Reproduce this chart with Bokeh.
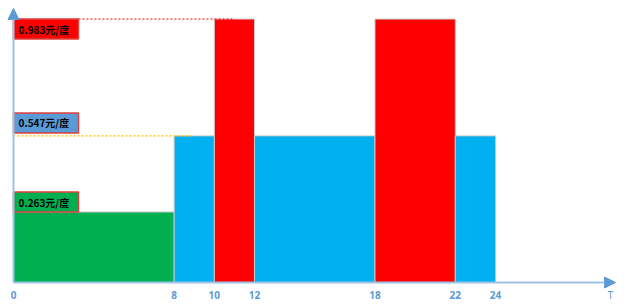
from bokeh.plotting import figure
from bokeh.models import Range1d, Arrow, NormalHead, ColumnDataSource
from bokeh.core.properties import value
from bokeh.embed import file_html
from bokeh.resources import INLINE

# ---- data ----
seg_start = [0, 8, 10, 12, 18, 22]
seg_end = [8, 10, 12, 18, 22, 24]
seg_price = [0.263, 0.547, 0.983, 0.547, 0.983, 0.547]
seg_tier = ["valley", "flat", "peak", "flat", "peak", "flat"]

tiers = ["peak", "flat", "valley"]
tier_price = [0.983, 0.547, 0.263]
tier_label = ["0.983元/度", "0.547元/度", "0.263元/度"]

x_ticks = [0, 8, 10, 12, 18, 22, 24]
x_title = "T"

# ---- styles ----
bar_colors = {"peak": "#FF0000", "flat": "#00B0F0", "valley": "#00B050"}
box_colors = {"peak": "#FF0000", "flat": "#5B9BD5", "valley": "#00B050"}
axis_color = "#9DC3E6"
head_color = "#5B9BD5"
tick_color = "#5B9BD5"

W, H = 640, 308
px_per_h = 20.083
px_per_y = 268.0
x0_px, y0_px = 13, 282  # origin in pixels (from left / top)

x_start = -x0_px / px_per_h
x_end = (W - x0_px) / px_per_h
y_end = y0_px / px_per_y
y_start = -(H - y0_px) / px_per_y

p = figure(width=W, height=H, x_range=Range1d(x_start, x_end), y_range=Range1d(y_start, y_end),
           output_backend="svg", toolbar_location=None, min_border=0,
           min_border_left=0, min_border_right=0, min_border_top=0, min_border_bottom=0,
           outline_line_color=None, background_fill_color="white", border_fill_color="white")
p.axis.visible = False
p.grid.visible = False

# bars
src = ColumnDataSource(dict(left=seg_start, right=seg_end, top=seg_price,
                            bottom=[0] * len(seg_start),
                            color=[bar_colors[t] for t in seg_tier]))
p.quad(left="left", right="right", top="top", bottom="bottom", source=src,
       fill_color="color", line_color="#C8C8C8", line_width=1)

# axes with arrows
ax_len_x = (615 - x0_px) / px_per_h
ax_len_y = (y0_px - 8) / px_per_y
p.add_layout(Arrow(end=NormalHead(size=11, fill_color=head_color, line_color=head_color),
                   x_start=0, y_start=0, x_end=ax_len_x, y_end=0,
                   line_color=axis_color, line_width=2))
p.add_layout(Arrow(end=NormalHead(size=11, fill_color=head_color, line_color=head_color),
                   x_start=0, y_start=0, x_end=0, y_end=ax_len_y,
                   line_color=axis_color, line_width=2))

# tick labels
p.text(x=x_ticks, y=[0] * len(x_ticks), text=[str(t) for t in x_ticks],
       y_offset=12, text_align="center", text_baseline="middle",
       text_font=value("Noto Sans"), text_font_style="bold", text_font_size="10px",
       text_color=tick_color)
p.text(x=[ax_len_x - 0.25], y=[0], text=[x_title], y_offset=12, text_align="center",
       text_baseline="middle", text_font=value("Noto Sans"), text_font_size="10px",
       text_color=tick_color)

# guide lines
box_w = 65 / px_per_h
bar_first = {t: min(s for s, tt in zip(seg_start, seg_tier) if tt == t) for t in tiers}
p.line(x=[box_w, bar_first["peak"] + 0.9], y=[tier_price[0]] * 2,
       line_color="#FF0000", line_dash="2 2", line_width=1)
p.line(x=[0, bar_first["flat"] + 0.95], y=[tier_price[1]] * 2,
       line_color="#FFC000", line_dash="2 2", line_width=1.2)

# label boxes
box_h = 20 / px_per_y
gap = 3 / px_per_y
tops, bottoms = [], []
for i, pr in enumerate(tier_price):
    if i == 0:
        tops.append(pr)
        bottoms.append(pr - box_h)
    else:
        bottoms.append(pr + gap * (1 if i == 1 else 0))
        tops.append(bottoms[-1] + box_h)
p.quad(left=[0] * 3, right=[box_w] * 3, top=tops, bottom=bottoms,
       fill_color=[box_colors[t] for t in tiers], line_color="#E0403C", line_width=1.5)
p.text(x=[0] * 3, y=[(a + b) / 2 for a, b in zip(tops, bottoms)], text=tier_label,
       x_offset=5, text_align="left", text_baseline="middle",
       text_font=value("Noto Sans CJK SC"), text_font_style="bold",
       text_font_size="10px", text_color="black")

open("out.html", "w").write(file_html(p, INLINE))
